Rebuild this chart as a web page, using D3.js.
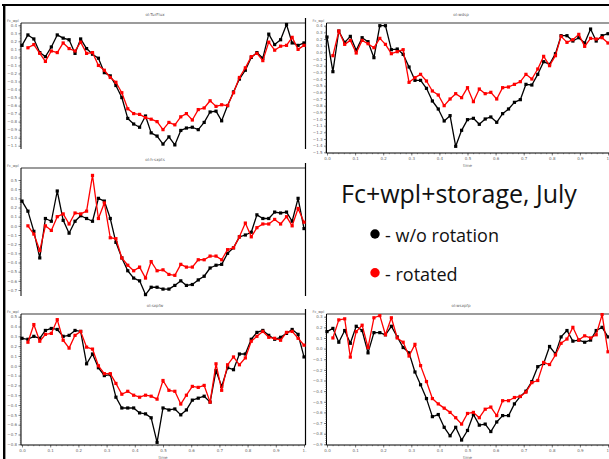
<html>
<head>
<meta charset="utf-8">
<title>Fc+wpl+storage, July</title>
<script src="https://d3js.org/d3.v7.min.js"></script>
<style>
  body { margin: 0; background: #fff; }
</style>
</head>
<body>
<script>
// time of day as fraction of a day (half-hourly)
const time = [0, .021, .042, .063, .083, .104, .125, .146, .167, .188, .208, .229, .25, .271, .292, .313,
  .333, .354, .375, .396, .417, .438, .458, .479, .5, .521, .542, .563, .583, .604, .625, .646, .667,
  .688, .708, .729, .75, .771, .792, .813, .833, .854, .875, .896, .917, .938, .958, .979, 1];
const xTicks = [0, .1, .2, .3, .4, .5, .6, .7, .8, .9, 1];
const xTickLabels = ["0.0", "0.1", "0.2", "0.3", "0.4", "0.5", "0.6", "0.7", "0.8", "0.9", "1."];

// top left
const tlTicks = [0.4, 0.3, 0.2, 0.1, 0, -0.1, -0.2, -0.3, -0.4, -0.5, -0.6, -0.7, -0.8, -0.9, -1.0, -1.1];
const tlNoRot = [0.15, 0.28, 0.23, 0.06, 0.01, 0.13, 0.28, 0.24, 0.22, 0.05, 0.23, 0.11, 0.04, -0.01, -0.19, -0.23,
  -0.35, -0.50, -0.76, -0.83, -0.87, -0.73, -0.94, -0.98, -1.08, -0.99, -1.09, -0.91, -0.88, -0.87, -0.90, -0.81,
  -0.68, -0.67, -0.79, -0.60, -0.43, -0.27, -0.16, 0.00, 0.06, -0.01, 0.29, 0.16, 0.22, 0.41, 0.18, 0.15, 0.18];
const tlRot = [null, 0.12, 0.16, 0.05, -0.05, 0.08, 0.06, 0.18, 0.11, 0.08, 0.19, 0.05, 0.06, -0.10, -0.16, -0.25,
  -0.31, -0.44, -0.64, -0.70, -0.71, -0.75, -0.77, -0.80, -0.90, -0.81, -0.84, -0.74, -0.70, -0.78, -0.65, -0.63,
  -0.54, -0.61, -0.59, -0.60, -0.44, -0.25, -0.13, 0.01, 0.05, -0.04, 0.19, 0.09, 0.14, 0.15, 0.25, 0.10, 0.15];

// top right
const trTicks = [0.4, 0.3, 0.2, 0.1, 0, -0.1, -0.2, -0.3, -0.4, -0.5, -0.6, -0.7, -0.8, -0.9, -1.0, -1.1, -1.2, -1.3, -1.4, -1.5];
const trNoRot = [0.23, -0.29, 0.32, 0.15, 0.24, 0.03, 0.22, 0.16, -0.08, 0.40, 0.40, 0.04, 0.05, -0.03, -0.22, -0.42,
  -0.42, -0.54, -0.73, -0.85, -1.03, -0.95, -1.41, -1.17, -1.01, -0.99, -1.08, -1.00, -0.97, -1.05, -0.92, -0.85,
  -0.75, -0.71, -0.48, -0.49, -0.33, -0.14, -0.18, -0.02, 0.25, 0.25, 0.17, 0.22, 0.14, 0.35, 0.17, 0.25, 0.28];
const trRot = [null, -0.05, 0.32, 0.12, 0.18, -0.01, 0.18, 0.13, 0.07, 0.21, 0.12, -0.02, 0.01, 0.04, -0.45, -0.38,
  -0.33, -0.43, -0.58, -0.64, -0.80, -0.70, -0.62, -0.68, -0.53, -0.74, -0.55, -0.62, -0.60, -0.70, -0.53, -0.52,
  -0.48, -0.44, -0.33, -0.40, -0.25, -0.06, -0.20, -0.05, 0.24, 0.15, 0.19, 0.27, 0.09, 0.21, 0.20, 0.22, 0.14];

// middle left
const mlTicks = [0.5, 0.4, 0.3, 0.2, 0.1, 0, -0.1, -0.2, -0.3, -0.4, -0.5, -0.6, -0.7];
const mlNoRot = [0.27, 0.16, -0.06, -0.35, 0.08, 0.05, 0.38, 0.06, -0.08, 0.05, 0.11, 0.08, 0.05, 0.30, 0.27, 0.08,
  -0.18, -0.35, -0.49, -0.57, -0.60, -0.75, -0.67, -0.67, -0.69, -0.69, -0.65, -0.60, -0.65, -0.64, -0.59, -0.55,
  -0.46, -0.43, -0.42, -0.30, -0.24, -0.12, -0.10, -0.07, 0.12, 0.08, 0.08, 0.15, 0.14, 0.15, 0.05, 0.30, -0.03];
const mlRot = [null, 0.00, -0.09, -0.27, 0.00, -0.05, 0.10, 0.13, 0.02, 0.14, 0.13, 0.16, 0.55, 0.08, 0.25, -0.13,
  -0.14, -0.35, -0.43, -0.49, -0.45, -0.57, -0.39, -0.49, -0.48, -0.53, -0.54, -0.42, -0.45, -0.45, -0.37, -0.37,
  -0.33, -0.33, -0.37, -0.26, -0.24, -0.12, 0.03, -0.12, -0.02, 0.02, 0.02, 0.07, 0.02, 0.10, 0.00, 0.19, 0.04];

// bottom left
const blTicks = [0.5, 0.4, 0.3, 0.2, 0.1, 0, -0.1, -0.2, -0.3, -0.4, -0.5, -0.6, -0.7, -0.8];
const blNoRot = [0.28, 0.27, 0.30, 0.28, 0.36, 0.38, 0.37, 0.30, 0.31, 0.36, 0.35, 0.02, 0.12, -0.02, -0.10, -0.09,
  -0.32, -0.43, -0.43, -0.43, -0.48, -0.49, -0.53, -0.78, -0.43, -0.45, -0.44, -0.50, -0.45, -0.35, -0.33, -0.31,
  -0.37, -0.05, -0.21, -0.02, -0.04, 0.12, 0.12, 0.27, 0.34, 0.36, 0.31, 0.27, 0.29, 0.33, 0.37, 0.32, 0.09];
const blRot = [null, 0.24, 0.42, 0.25, 0.32, 0.33, 0.47, 0.26, 0.18, 0.31, 0.35, 0.19, 0.17, 0.00, -0.08, -0.08,
  -0.18, -0.29, -0.26, -0.30, -0.32, -0.30, -0.31, -0.34, -0.15, -0.25, -0.26, -0.39, -0.30, -0.21, -0.22, -0.20,
  -0.37, 0.02, -0.25, 0.01, 0.09, 0.01, 0.08, 0.25, 0.30, 0.35, 0.29, 0.28, 0.26, 0.34, 0.35, 0.28, 0.21];

// bottom right
const brTicks = [0.3, 0.2, 0.1, 0, -0.1, -0.2, -0.3, -0.4, -0.5, -0.6, -0.7, -0.8, -0.9];
const brNoRot = [0.16, 0.19, 0.06, 0.17, 0.05, 0.21, 0.17, -0.04, 0.15, 0.15, 0.13, 0.21, 0.11, 0.01, -0.04, -0.22,
  -0.34, -0.47, -0.64, -0.62, -0.74, -0.82, -0.74, -0.86, -0.77, -0.62, -0.72, -0.71, -0.78, -0.69, -0.63, -0.63,
  -0.52, -0.45, -0.40, -0.31, -0.17, -0.14, 0.02, -0.05, 0.11, 0.17, 0.07, 0.08, 0.06, 0.08, 0.17, 0.20, 0.11];
const brRot = [null, 0.10, 0.27, 0.28, -0.08, 0.16, 0.22, 0.01, 0.29, 0.31, 0.13, 0.29, 0.10, 0.06, -0.07, 0.04,
  -0.16, -0.31, -0.47, -0.52, -0.56, -0.60, -0.65, -0.71, -0.61, -0.60, -0.65, -0.57, -0.55, -0.63, -0.49, -0.49,
  -0.46, -0.45, -0.41, -0.32, -0.30, -0.13, -0.15, -0.06, 0.05, 0.09, 0.20, 0.08, 0.12, 0.10, 0.13, 0.32, -0.03];

const width = 609, height = 459;

const panels = [
  {title: "ol:TurFlux", black: tlNoRot, red: tlRot, ticks: tlTicks, xr: [22, 304], yr: [25.3, 145.7],
   axisX: 21, right: 305.5, top: 23, bottom: 149, xAxis: false, titleX: 155, titleY: 16},
  {title: "ol:wdsp", black: trNoRot, red: trRot, ticks: trTicks, xr: [327, 608], yr: [25.7, 152.3],
   axisX: 326.5, right: 610, top: 23, bottom: 153, xAxis: true, titleX: 461, titleY: 16},
  {title: "ol:h-sxpts", black: mlNoRot, red: mlRot, ticks: mlTicks, xr: [22, 304], yr: [180, 290],
   axisX: 21, right: 305.5, top: 168, bottom: 296, xAxis: false, titleX: 155, titleY: 161},
  {title: "ol:sxpfw", black: blNoRot, red: blRot, ticks: blTicks, xr: [22, 304], yr: [316.7, 444.3],
   axisX: 21, right: 305.5, top: 314, bottom: 445, xAxis: true, titleX: 155, titleY: 307},
  {title: "ol:wsxpfp", black: brNoRot, red: brRot, ticks: brTicks, xr: [327, 608], yr: [316.7, 444.3],
   axisX: 326.5, right: 610, top: 314, bottom: 445, xAxis: true, titleX: 461, titleY: 307}
];

const svg = d3.select("body")
    .append("svg")
    .attr("width", width)
    .attr("height", height)
    .style("font-family", "'DejaVu Sans', sans-serif");

svg.append("rect").attr("width", width).attr("height", height).attr("fill", "#fff");

const fmt = d3.format(".1f");

panels.forEach(p => {
    const x = d3.scaleLinear().domain([0, 1]).range(p.xr);
    const y = d3.scaleLinear().domain([p.ticks[0], p.ticks[p.ticks.length - 1]]).range(p.yr);
    const g = svg.append("g");

    // frame: grey top, right edge, y axis line
    g.append("line")
        .attr("x1", p.axisX).attr("x2", p.right)
        .attr("y1", p.top).attr("y2", p.top)
        .attr("stroke", "#7a7a7a").attr("stroke-width", 1.6);
    if (p.right < 400) {
        g.append("line")
            .attr("x1", p.right).attr("x2", p.right)
            .attr("y1", p.top - 5).attr("y2", p.bottom)
            .attr("stroke", "#000").attr("stroke-width", 1.2);
    }
    g.append("line")
        .attr("x1", p.axisX).attr("x2", p.axisX)
        .attr("y1", p.top).attr("y2", p.bottom)
        .attr("stroke", "#000").attr("stroke-width", 1);

    // y ticks
    const minor = d3.range(Math.round((p.ticks[0] - p.ticks[p.ticks.length - 1]) / 0.02) + 1)
        .map(i => p.ticks[p.ticks.length - 1] + i * 0.02);
    const yMinor = g.append("g").attr("transform", `translate(${p.axisX},0)`)
        .call(d3.axisLeft(y).tickValues(minor).tickSize(1.2).tickFormat(""));
    const yMajor = g.append("g").attr("transform", `translate(${p.axisX},0)`)
        .call(d3.axisLeft(y).tickValues(p.ticks).tickSize(2.5).tickPadding(1.5).tickFormat(fmt));
    [yMinor, yMajor].forEach(a => {
        a.select(".domain").remove();
        a.selectAll("line").attr("stroke", "#333").attr("stroke-width", 0.6);
        a.selectAll("text").attr("font-size", 4).attr("fill", "#666").attr("font-family", "'DejaVu Sans', sans-serif");
    });

    // x axis
    if (p.xAxis) {
        g.append("line")
            .attr("x1", p.axisX).attr("x2", p.right)
            .attr("y1", p.bottom).attr("y2", p.bottom)
            .attr("stroke", "#000").attr("stroke-width", 1);
        const xMinor = g.append("g").attr("transform", `translate(0,${p.bottom})`)
            .call(d3.axisBottom(x).tickValues(d3.range(51).map(i => i * 0.02)).tickSize(1.2).tickFormat(""));
        const xMajor = g.append("g").attr("transform", `translate(0,${p.bottom})`)
            .call(d3.axisBottom(x).tickValues(xTicks).tickSize(2.5).tickPadding(2)
                .tickFormat((d, i) => xTickLabels[i]));
        [xMinor, xMajor].forEach(a => {
            a.select(".domain").remove();
            a.selectAll("line").attr("stroke", "#333").attr("stroke-width", 0.6);
            a.selectAll("text").attr("font-size", 4).attr("fill", "#666").attr("font-family", "'DejaVu Sans', sans-serif");
        });
        g.append("text")
            .attr("x", (p.xr[0] + p.xr[1]) / 2).attr("y", p.bottom + 14)
            .attr("text-anchor", "middle").attr("font-size", 4).attr("fill", "#666")
            .text("time");
    }

    // title and y label
    g.append("text")
        .attr("x", p.titleX).attr("y", p.titleY)
        .attr("text-anchor", "middle").attr("font-size", 4).attr("fill", "#666")
        .text(p.title);
    g.append("text")
        .attr("x", p.axisX - 14).attr("y", p.top - 1)
        .attr("font-size", 3.5).attr("fill", "#666")
        .text("Fc_wpl");

    // series
    const series = [{values: p.black, color: "#000"}, {values: p.red, color: "#ff0000"}];
    series.forEach(s => {
        const pts = time.map((t, i) => ({t: t, v: s.values[i]})).filter(d => d.v != null);
        const line = d3.line().x(d => x(d.t)).y(d => y(d.v));
        g.append("path")
            .attr("d", line(pts))
            .attr("fill", "none")
            .attr("stroke", s.color)
            .attr("stroke-width", 1.3)
            .attr("stroke-linejoin", "round");
        g.append("g").selectAll("rect")
            .data(pts)
            .join("rect")
            .attr("x", d => x(d.t) - 1.6)
            .attr("y", d => y(d.v) - 1.6)
            .attr("width", 3.2)
            .attr("height", 3.2)
            .attr("fill", s.color);
    });
});

// slide edges
svg.append("line")
    .attr("x1", 2).attr("x2", width).attr("y1", 5).attr("y2", 5)
    .attr("stroke", "#000").attr("stroke-width", 2);
svg.append("line")
    .attr("x1", 4.2).attr("x2", 4.2).attr("y1", 4).attr("y2", height)
    .attr("stroke", "#000").attr("stroke-width", 2.4);

// caption and legend
const legend = svg.append("g").style("font-family", "'Open Sans', sans-serif");
legend.append("text")
    .attr("x", 341).attr("y", 203)
    .attr("font-size", 25)
    .attr("fill", "#111")
    .text("Fc+wpl+storage, July");

const legendItems = ["- w/o rotation", "- rotated"];
const legendColors = ["#000", "#ff0000"];
legendItems.forEach((t, i) => {
    const cy = 234 + i * 38.7;
    legend.append("circle")
        .attr("cx", 375).attr("cy", cy).attr("r", 4.7)
        .attr("fill", legendColors[i]);
    legend.append("text")
        .attr("x", 385).attr("y", cy + 7.8)
        .attr("font-size", 18)
        .attr("fill", "#111")
        .text(t);
});
</script>
</body>
</html>
